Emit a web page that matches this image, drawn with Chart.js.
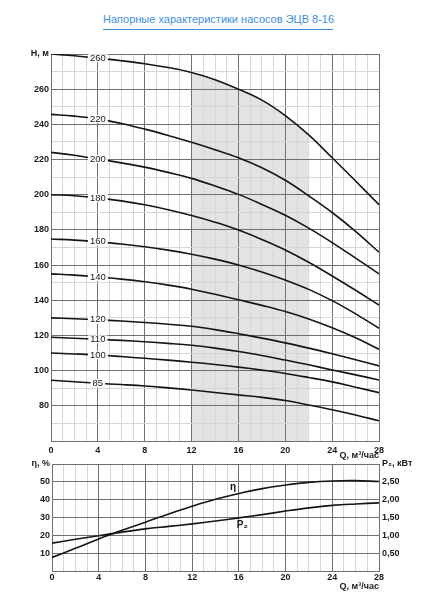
<!DOCTYPE html>
<html>
<head>
<meta charset="utf-8">
<script src="https://cdn.jsdelivr.net/npm/chart.js@4.4.1/dist/chart.umd.min.js"></script>
<style>
  body { margin: 0; background: #fff; font-family: "Liberation Sans", Arial, sans-serif; }
  #title {
    position: absolute; left: 103px; top: 12px; width: 230px;
    font-size: 11px; line-height: 14px; color: #3d8fe0; text-align: center;
    white-space: nowrap; padding-bottom: 3px; border-bottom: 1px solid #3d8fe0;
  }
  #head { position: absolute; left: 0; top: 40px; width: 428px; height: 430px; }
  #eff  { position: absolute; left: 0; top: 454px; width: 428px; height: 146px; }
</style>
</head>
<body>
<div id="title">Напорные характеристики насосов ЭЦВ 8-16</div>
<div id="head"><canvas id="head-chart" width="428" height="430"></canvas></div>
<div id="eff"><canvas id="eff-chart" width="428" height="146"></canvas></div>
<script>
// подача, м3/час
var Q = [0, 2, 4, 6, 8, 10, 12, 14, 16, 18, 20, 22, 24, 26, 28];

// напор H, м для каждой модели (число в подписи кривой)
var H260 = [280, 279, 277.6, 276.2, 274.5, 272.3, 269.5, 265.4, 260, 253.8, 245, 234, 221, 207.8, 194.3];
var H220 = [245.7, 244.7, 243.1, 240.5, 237.3, 233.7, 229.8, 225.6, 221, 215.3, 208.2, 199.4, 189.9, 179.2, 167.3];
var H200 = [224.1, 222.4, 220.3, 218.1, 215.7, 212.7, 209.3, 205, 200.2, 194.5, 188.3, 181, 172.8, 164, 155];
var H180 = [200, 199.4, 198.2, 196.5, 194.3, 191.5, 188.2, 184.4, 180, 174.6, 168.6, 161.6, 153.8, 145.7, 137.3];
var H160 = [174.8, 174.2, 173.2, 172, 170.4, 168.5, 166.2, 163.4, 160.1, 156.1, 151.5, 146.2, 139.8, 132.3, 124.1];
var H140 = [155, 154.3, 153.2, 152, 150.5, 148.6, 146.3, 143.4, 140.3, 137.1, 133.6, 129.4, 124.4, 118.7, 112.2];
var H120 = [130, 129.5, 128.9, 128.2, 127.4, 126.4, 125.2, 123.3, 121, 118.5, 115.8, 112.8, 109.6, 106.2, 102.7];
var H110 = [119, 118.4, 117.8, 117.2, 116.4, 115.5, 114.4, 112.8, 110.9, 108.6, 106, 103.3, 100.4, 97.6, 94.7];
var H100 = [110, 109.5, 108.9, 108, 107, 106, 104.8, 103.5, 102, 100.3, 98.4, 96.1, 93.6, 90.6, 87.5];
var H85  = [94.5, 93.7, 92.8, 92.1, 91.3, 90.2, 89, 87.6, 86.2, 84.8, 83, 80.5, 77.8, 74.8, 71.5];

var curves = [
  ['260', H260], ['220', H220], ['200', H200], ['180', H180], ['160', H160],
  ['140', H140], ['120', H120], ['110', H110], ['100', H100], ['85', H85]
];

// рабочая зона, м3/час
var ZONE = [12, 22];

// КПД, % и мощность P2, кВт
var ETA = [7.6, 12.7, 18, 22.8, 27.4, 32, 36.3, 40.2, 43.5, 46.2, 48.2, 49.7, 50.5, 50.7, 50.2];
var P2  = [0.78, 0.89, 0.99, 1.09, 1.18, 1.25, 1.32, 1.40, 1.49, 1.58, 1.68, 1.77, 1.84, 1.88, 1.91];

Chart.defaults.font.family = '"Liberation Sans", Arial, sans-serif';
Chart.defaults.color = '#1a1a1a';

var DARK = '#707070', LIGHT = '#d6d6d6', INK = '#151515', SHADE = '#e3e3e3', NONE = 'rgba(0,0,0,0)';
var tickFont = { size: 9, weight: 'bold' };

function pts(ys) {
  return Q.map(function (q, i) { return { x: q, y: ys[i] }; });
}

function line(ys, extra) {
  var ds = {
    data: pts(ys), borderColor: INK, borderWidth: 1.6, pointRadius: 0,
    tension: 0.4, fill: false
  };
  for (var k in extra) ds[k] = extra[k];
  return ds;
}

// подписи кривых (с белой подложкой на верхнем графике)
var tagPlugin = {
  id: 'tags',
  afterDatasetsDraw: function (chart, args, opts) {
    var ctx = chart.ctx, xs = chart.scales.x;
    ctx.save();
    ctx.font = opts.font;
    ctx.textAlign = 'center';
    ctx.textBaseline = 'middle';
    chart.data.datasets.forEach(function (ds) {
      if (!ds.tag) return;
      var ys = chart.scales[ds.yAxisID || 'y'];
      var at = ds.tagAt != null ? ds.tagAt : opts.at;
      var i = Q.indexOf(at), v;
      if (i >= 0) {
        v = ds.data[i].y;
      } else {
        var j = 0;
        while (Q[j + 1] < at) j++;
        var t = (at - Q[j]) / (Q[j + 1] - Q[j]);
        v = ds.data[j].y + (ds.data[j + 1].y - ds.data[j].y) * t;
      }
      var px = xs.getPixelForValue(at), py = ys.getPixelForValue(v) + (ds.tagDy || 0);
      if (opts.box) {
        var w = ctx.measureText(ds.tag).width + 4;
        ctx.fillStyle = '#fff';
        ctx.fillRect(px - w / 2, py - 4, w, 8);
      }
      ctx.fillStyle = INK;
      ctx.fillText(ds.tag, px, py);
    });
    ctx.restore();
  }
};

var headSets = [{
  data: pts(H260), borderWidth: 0, borderColor: NONE, pointRadius: 0, tension: 0.4,
  fill: 'start', backgroundColor: NONE,
  segment: {
    backgroundColor: function (c) {
      return c.p0.parsed.x >= ZONE[0] && c.p1.parsed.x <= ZONE[1] ? SHADE : NONE;
    }
  }
}];
curves.forEach(function (c) { headSets.push(line(c[1], { tag: c[0] })); });

new Chart(document.getElementById('head-chart'), {
  type: 'line',
  data: { datasets: headSets },
  plugins: [tagPlugin],
  options: {
    responsive: false, animation: false,
    layout: { padding: { top: 14, right: 49, bottom: 9, left: 0 } },
    plugins: {
      legend: { display: false }, tooltip: { enabled: false },
      filler: { drawTime: 'beforeDraw' },
      tags: { at: 4, font: '9.5px "Liberation Sans", Arial, sans-serif', box: true }
    },
    scales: {
      x: {
        type: 'linear', min: 0, max: 28,
        afterFit: function (s) { s.height = 20; },
        ticks: {
          stepSize: 1, autoSkip: false, maxRotation: 0, padding: 4, font: tickFont,
          callback: function (v) { return v % 4 === 0 ? String(v) : ''; }
        },
        grid: {
          drawTicks: false, lineWidth: 1,
          color: function (c) { return c.tick.value % 4 === 0 ? DARK : LIGHT; }
        },
        border: { color: DARK },
        title: {
          display: true, text: 'Q, м³/час', align: 'end', padding: 0,
          font: { size: 9, weight: 'bold' }
        }
      },
      y: {
        type: 'linear', min: 60, max: 280,
        afterFit: function (s) { s.width = 51; },
        ticks: {
          stepSize: 10, padding: 2, font: tickFont,
          callback: function (v) {
            if (v === 280) return 'H, м';
            return v % 20 === 0 && v !== 60 ? String(v) : '';
          }
        },
        grid: {
          drawTicks: false, lineWidth: 1,
          color: function (c) { return c.tick.value % 20 === 0 ? DARK : LIGHT; }
        },
        border: { color: DARK }
      }
    }
  }
});

new Chart(document.getElementById('eff-chart'), {
  type: 'line',
  data: {
    datasets: [
      line(ETA, { tag: 'η', tagAt: 15.5, tagDy: -8, yAxisID: 'y' }),
      line(P2, { tag: 'P₂', tagAt: 16.3, tagDy: 8, yAxisID: 'y2' })
    ]
  },
  plugins: [tagPlugin],
  options: {
    responsive: false, animation: false,
    layout: { padding: { top: 10, right: 0, bottom: 8, left: 0 } },
    plugins: {
      legend: { display: false }, tooltip: { enabled: false },
      tags: { at: 16, font: 'bold 10px "Liberation Sans", Arial, sans-serif', box: false }
    },
    scales: {
      x: {
        type: 'linear', min: 0, max: 28,
        afterFit: function (s) { s.height = 21; },
        ticks: {
          stepSize: 1, autoSkip: false, maxRotation: 0, padding: 1, font: tickFont,
          callback: function (v) { return v % 4 === 0 ? String(v) : ''; }
        },
        grid: {
          drawTicks: false, lineWidth: 1,
          color: function (c) { return c.tick.value % 4 === 0 ? DARK : LIGHT; }
        },
        border: { color: DARK },
        title: {
          display: true, text: 'Q, м³/час', align: 'end', padding: 0,
          font: { size: 9, weight: 'bold' }
        }
      },
      y: {
        type: 'linear', position: 'left', min: 0, max: 60,
        afterFit: function (s) { s.width = 52; },
        ticks: {
          stepSize: 10, padding: 2, font: tickFont,
          callback: function (v) {
            if (v === 60) return 'η, %';
            return v === 0 ? '' : String(v);
          }
        },
        grid: { drawTicks: false, lineWidth: 1, color: DARK },
        border: { color: DARK }
      },
      y2: {
        type: 'linear', position: 'right', min: 0, max: 3,
        afterFit: function (s) { s.width = 49; },
        ticks: {
          stepSize: 0.5, padding: 3, font: tickFont,
          callback: function (v) {
            if (v === 3) return 'P₂, кВт';
            return v === 0 ? '' : v.toFixed(2).replace('.', ',');
          }
        },
        grid: { display: false, drawTicks: false },
        border: { color: DARK }
      }
    }
  }
});
</script>
</body>
</html>
